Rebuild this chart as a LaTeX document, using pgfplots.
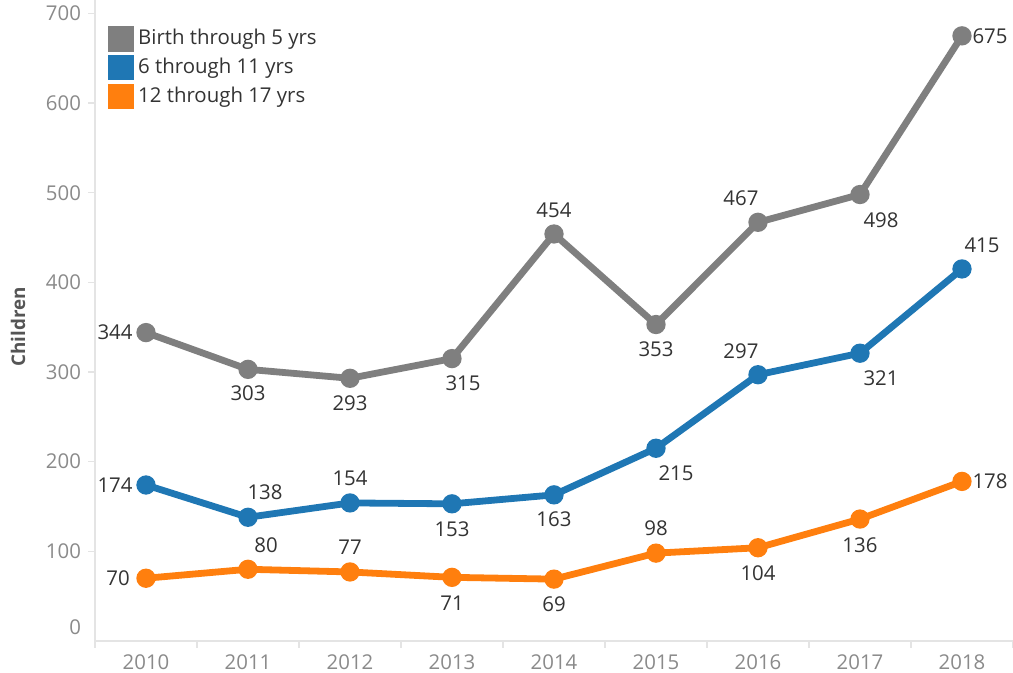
\documentclass[border=0pt]{standalone}
\usepackage{pgfplots}
\pgfplotsset{compat=1.18}
\usepackage{pgfplotstable}
\usepackage{fontspec}
\setmainfont{Open Sans}
\definecolor{cgrey}{HTML}{7F7F7F}
\definecolor{cblue}{HTML}{1F77B4}
\definecolor{corange}{HTML}{FF7F0E}
\definecolor{axgrey}{HTML}{E4E4E4}
\definecolor{ticklab}{HTML}{8A8A8A}
\definecolor{datalab}{HTML}{333333}
\definecolor{ylab}{HTML}{555555}

\pgfplotstableread{
x y dx dy
0 344 -15.5 0
1 303 0 -12
2 293 0 -12.5
3 315 5.5 -12.5
4 454 0 12
5 353 0 -12.5
6 467 -8.5 12
7 498 10.5 -13
8 675 14 0
}\tgrey
\pgfplotstableread{
x y dx dy
0 174 -15.5 0
1 138 8.5 12.5
2 154 0 12.5
3 153 0 -12.5
4 163 0 -12
5 215 10 -12.5
6 297 -8.5 12
7 321 10.5 -12.5
8 415 10 12
}\tblue
\pgfplotstableread{
x y dx dy
0 70 -14 0
1 80 9 12
2 77 0 12.5
3 71 0 -13
4 69 0 -12.5
5 98 0 12.5
6 104 0 -12.5
7 136 0 -13
8 178 14 0
}\torange

\pgfplotsset{
  lab/.style={
    point meta=explicit, nodes near coords,
    visualization depends on={\thisrow{dx} \as \ldx},
    visualization depends on={\thisrow{dy} \as \ldy},
    nodes near coords style={anchor=center, xshift=\ldx pt, yshift=\ldy pt,
      font=\fontsize{10.2}{12}\selectfont, text=datalab},
  },
}

\begin{document}
\begin{tikzpicture}
\pgfkeys{/pgf/number format/assume math mode=true}
\begin{axis}[
  scale only axis, width=459pt, height=320.5pt,
  xmin=-0.5, xmax=8.5, ymin=0, ymax=715,
  clip=false,
  axis x line*=bottom, axis y line*=left,
  axis line style={draw=axgrey, line width=0.7pt, -},
  tick align=outside,
  major tick length=3.5pt,
  tick style={draw=axgrey, line width=0.7pt},
  xtick={-0.5,0.5,...,8.5}, xticklabels={},
  extra x ticks={0,1,2,3,4,5,6,7,8},
  extra x tick labels={2010,2011,2012,2013,2014,2015,2016,2017,2018},
  extra x tick style={tick style={draw=none}},
  ytick={100,200,...,700},
  extra y ticks={0},
  extra y tick style={tick style={draw=none}, yticklabel style={yshift=7pt}},
  ticklabel style={font=\fontsize{10.2}{12}\selectfont, text=ticklab},
  ylabel={Children},
  ylabel style={at={(axis description cs:-0.0839,0.49)}, anchor=center, font=\fontsize{9.4}{10}\selectfont\bfseries, text=ylab},
  legend style={at={(axis description cs:0,1)}, anchor=north west, xshift=6.5pt, yshift=-12.5pt,
    draw=none, fill=none, inner sep=0pt, row sep=1.2pt,
    font=\fontsize{10.2}{12}\selectfont, text=datalab, cells={anchor=west}},
  legend image code/.code={\fill[#1] (0pt,-4.75pt) rectangle (9.5pt,4.75pt);},
  every axis plot/.append style={line width=3.4pt, mark=*, mark size=3.1pt},
]
\addplot[color=cgrey, lab] table[x=x, y=y, meta=y] {\tgrey};
\addlegendentry{Birth through 5 yrs}
\addplot[color=cblue, lab] table[x=x, y=y, meta=y] {\tblue};
\addlegendentry{6 through 11 yrs}
\addplot[color=corange, lab] table[x=x, y=y, meta=y] {\torange};
\addlegendentry{12 through 17 yrs}
\end{axis}
\pgfresetboundingbox
\path[use as bounding box] (-47.5pt,-16pt) rectangle (459pt,320.5pt);
\end{tikzpicture}
\end{document}
